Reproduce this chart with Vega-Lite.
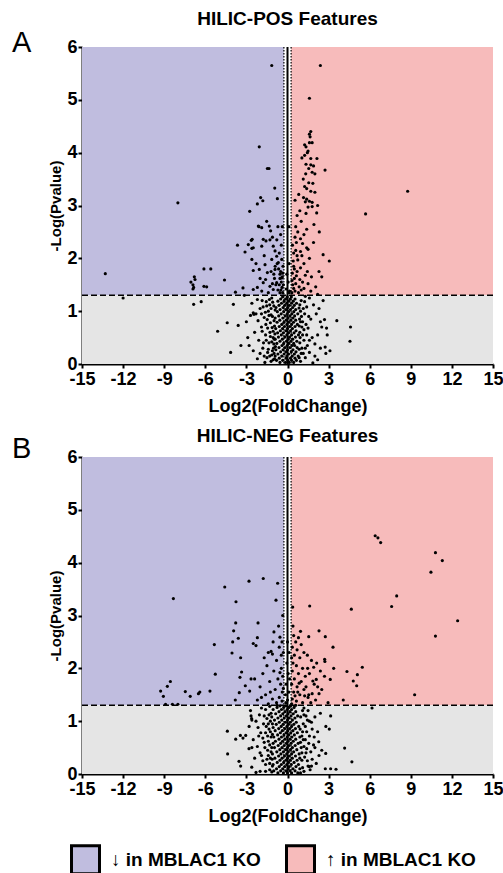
{
"$schema": "https://vega.github.io/schema/vega-lite/v6.json",
"background": "white",
"padding": {"left": 12, "top": 10, "right": 6, "bottom": 2},
"config": {
 "font": "Liberation Sans",
 "view": {"stroke": null},
 "axis": {"grid": false, "domainColor": "black", "domainWidth": 2, "tickColor": "black", "tickWidth": 2, "tickSize": 4, "labelColor": "black", "labelFontSize": 18, "labelFontWeight": "bold", "labelOverlap": false, "labelBound": false, "labelFlush": false, "titleColor": "black", "titleFontWeight": "bold", "titleFontSize": 18, "labelPadding": 2, "titlePadding": 9, "labelExpr": "datum.value < 0 ? '-' + abs(datum.value) : '' + datum.value"},
 "axisY": {"titlePadding": 3, "labelPadding": 1},
 "title": {"fontSize": 19, "fontWeight": "bold", "color": "black", "anchor": "middle"}
},
"datasets": {
 "regions": [
  {"x": -15, "x2": -0.263, "y": 1.3, "y2": 6, "c": "↓ in MBLAC1 KO"},
  {"x": 0.263, "x2": 15, "y": 1.3, "y2": 6, "c": "↑ in MBLAC1 KO"},
  {"x": -15, "x2": 15, "y": 0, "y2": 1.3, "c": "ns"}
 ],
 "pos": [
{"x":-1.15,"y":5.65},{"x":2.4,"y":5.65},{"x":1.6,"y":5.03},{"x":-2.06,"y":4.11},{"x":-13.3,"y":1.71},{"x":-12.0,"y":1.25},{"x":-8.0,"y":3.05},{"x":8.77,"y":3.27},{"x":5.7,"y":2.84},
{"x":-7.05,"y":1.55},{"x":-6.9,"y":1.5},{"x":-6.85,"y":1.45},{"x":-6.9,"y":1.42},{"x":-6.75,"y":1.6},{"x":-6.8,"y":1.65},{"x":-6.1,"y":1.8},{"x":-5.6,"y":1.8},{"x":-6.1,"y":1.47},{"x":-5.9,"y":1.46},{"x":-4.6,"y":1.59},{"x":-6.85,"y":1.13},{"x":-6.3,"y":1.18},{"x":-5.1,"y":0.62},{"x":-4.15,"y":0.22},{"x":-4.4,"y":0.78},{"x":-3.95,"y":1.13},{"x":-3.6,"y":0.73},{"x":-3.4,"y":0.35},{"x":-3.8,"y":1.36},{"x":-3.65,"y":2.25},{"x":-3.1,"y":2.12},{"x":-2.76,"y":2.89},{"x":-2.64,"y":2.34},{"x":-2.58,"y":2.36},{"x":-2.6,"y":2.19},{"x":-2.6,"y":1.98},{"x":-2.5,"y":1.77},{"x":-2.2,"y":3.03},{"x":-2.08,"y":2.6},{"x":-3.25,"y":1.44},{"x":-3.15,"y":1.3},{"x":-1.47,"y":3.7},{"x":-1.35,"y":3.7},{"x":-0.93,"y":3.33},{"x":-1.96,"y":3.15},{"x":-1.8,"y":3.09},{"x":-0.74,"y":3.13},
{"x":-2.13,"y":2.61},{"x":-1.88,"y":2.58},{"x":-1.52,"y":2.7},{"x":-1.33,"y":2.61},{"x":-1.23,"y":2.52},{"x":-1.77,"y":2.36},{"x":-1.57,"y":2.33},{"x":-1.28,"y":2.35},{"x":-2.86,"y":2.26},{"x":-2.5,"y":2.2},{"x":-1.88,"y":2.23},{"x":-1.04,"y":2.23},{"x":-0.91,"y":2.14},{"x":-0.79,"y":2.04},{"x":-1.15,"y":1.98},{"x":-0.67,"y":1.92},{"x":-1.64,"y":1.88},{"x":-2.06,"y":1.79},{"x":-1.47,"y":1.73},{"x":-0.91,"y":1.79},{"x":-0.55,"y":1.7},{"x":-1.77,"y":1.54},{"x":-1.28,"y":1.47},{"x":-0.79,"y":1.54},{"x":-0.42,"y":1.63},{"x":-1.04,"y":1.41},{"x":-1.88,"y":1.38},{"x":-0.55,"y":1.35},{"x":-2.5,"y":1.41},
{"x":-0.35,"y":1.35},{"x":-0.4,"y":1.45},{"x":-0.45,"y":1.55},{"x":-0.38,"y":1.65},{"x":-0.5,"y":1.75},{"x":-0.33,"y":1.85},{"x":-0.6,"y":1.5},{"x":-0.7,"y":1.4},{"x":-0.42,"y":1.98},{"x":-0.55,"y":1.62},{"x":-0.65,"y":1.8},{"x":-0.3,"y":1.5},{"x":-0.35,"y":1.72},{"x":-0.48,"y":1.4},{"x":-0.85,"y":1.5},{"x":-0.95,"y":1.62},{"x":-1.1,"y":1.52},{"x":-1.2,"y":1.75},{"x":-0.75,"y":1.9},{"x":-0.9,"y":1.85},{"x":-1.0,"y":1.7},{"x":-0.6,"y":2.1},{"x":-0.45,"y":2.25},{"x":-0.78,"y":2.35},{"x":-0.5,"y":2.45},{"x":-0.38,"y":2.6},{"x":-1.1,"y":2.4},{"x":-0.7,"y":2.6},{"x":-1.6,"y":1.6},{"x":-1.4,"y":1.35},{"x":-2.2,"y":1.45},{"x":-2.0,"y":1.62},{"x":-2.3,"y":1.9},{"x":-1.7,"y":2.05},
{"x":1.35,"y":4.11},{"x":1.5,"y":4.03},{"x":1.45,"y":4.0},{"x":1.6,"y":4.19},{"x":1.8,"y":4.19},{"x":1.7,"y":3.89},{"x":2.15,"y":3.89},{"x":1.35,"y":3.78},{"x":1.7,"y":3.77},{"x":2.0,"y":3.6},{"x":1.8,"y":3.63},{"x":1.33,"y":3.6},{"x":1.55,"y":3.43},{"x":1.85,"y":3.42},{"x":1.25,"y":3.36},{"x":1.4,"y":3.32},{"x":1.7,"y":3.27},{"x":2.0,"y":3.25},{"x":0.82,"y":3.21},{"x":1.17,"y":3.15},{"x":1.4,"y":3.12},{"x":1.6,"y":3.08},{"x":1.8,"y":3.06},{"x":2.2,"y":3.0},{"x":1.3,"y":3.07},{"x":1.5,"y":2.97},{"x":1.8,"y":2.98},{"x":2.13,"y":2.86},{"x":1.35,"y":2.85},{"x":0.55,"y":3.1},{"x":0.7,"y":2.81},{"x":1.6,"y":4.35},{"x":1.7,"y":4.4},{"x":1.65,"y":4.3},{"x":2.74,"y":3.67},{"x":3.05,"y":1.95},{"x":2.6,"y":2.07},{"x":2.5,"y":1.65},{"x":2.06,"y":1.46},{"x":2.32,"y":2.5},{"x":1.93,"y":2.64},
{"x":1.4,"y":2.55},{"x":0.75,"y":2.5},{"x":0.55,"y":2.4},{"x":0.95,"y":2.37},{"x":0.65,"y":2.3},{"x":1.1,"y":2.28},{"x":1.4,"y":2.2},{"x":0.6,"y":2.15},{"x":0.95,"y":2.13},{"x":1.5,"y":2.17},{"x":0.45,"y":2.1},{"x":1.05,"y":2.05},{"x":1.6,"y":2.0},{"x":0.75,"y":1.97},{"x":1.2,"y":1.9},{"x":0.45,"y":1.85},{"x":0.95,"y":1.82},{"x":1.45,"y":1.75},{"x":1.75,"y":1.65},{"x":0.65,"y":1.67},{"x":1.1,"y":1.55},{"x":1.5,"y":1.52},{"x":0.85,"y":1.46},{"x":0.45,"y":1.43},{"x":1.2,"y":1.43},
{"x":0.32,"y":1.35},{"x":0.38,"y":1.5},{"x":0.5,"y":1.62},{"x":0.35,"y":1.72},{"x":0.42,"y":1.95},{"x":0.55,"y":1.38},{"x":0.6,"y":1.52},{"x":0.7,"y":1.75},{"x":0.33,"y":1.58},{"x":0.8,"y":1.35},{"x":0.9,"y":1.6},{"x":1.0,"y":1.4},{"x":0.5,"y":1.8},{"x":0.36,"y":2.25},{"x":0.7,"y":2.05},{"x":1.3,"y":1.68},{"x":1.7,"y":1.38},{"x":2.2,"y":1.32},{"x":0.6,"y":2.6},{"x":1.0,"y":2.7},{"x":1.2,"y":2.45},{"x":0.9,"y":2.9},{"x":1.15,"y":3.5},{"x":1.05,"y":3.9},{"x":1.25,"y":3.95},{"x":1.9,"y":3.75},{"x":1.55,"y":3.7},{"x":1.9,"y":2.3},{"x":2.3,"y":1.75},{"x":1.25,"y":4.15},
{"x":0.1,"y":1.35},{"x":-0.1,"y":1.42},{"x":0.05,"y":1.55},{"x":0.15,"y":1.38},{"x":-0.05,"y":1.7},{"x":0.1,"y":2.6},{"x":0.12,"y":1.9},
{"x":-0.55,"y":0.03},{"x":-0.15,"y":0.03},{"x":0.12,"y":0.03},{"x":0.45,"y":0.03},
{"x":-0.8,"y":0.07},{"x":-0.35,"y":0.07},{"x":0.02,"y":0.07},{"x":0.3,"y":0.07},{"x":0.65,"y":0.07},
{"x":-0.6,"y":0.11},{"x":-0.1,"y":0.11},{"x":0.22,"y":0.11},{"x":0.55,"y":0.11},
{"x":-0.9,"y":0.15},{"x":-0.42,"y":0.15},{"x":-0.05,"y":0.15},{"x":0.35,"y":0.15},{"x":0.78,"y":0.15},
{"x":-0.7,"y":0.19},{"x":-0.25,"y":0.19},{"x":0.08,"y":0.19},{"x":0.5,"y":0.19},
{"x":-0.5,"y":0.23},{"x":-0.12,"y":0.23},{"x":0.28,"y":0.23},{"x":0.62,"y":0.23},
{"x":-0.85,"y":0.27},{"x":-0.32,"y":0.27},{"x":0.0,"y":0.27},{"x":0.4,"y":0.27},
{"x":-0.62,"y":0.31},{"x":-0.18,"y":0.31},{"x":0.18,"y":0.31},{"x":0.7,"y":0.31},
{"x":-0.4,"y":0.35},{"x":-0.02,"y":0.35},{"x":0.33,"y":0.35},{"x":0.52,"y":0.35},
{"x":-0.78,"y":0.39},{"x":-0.28,"y":0.39},{"x":0.1,"y":0.39},{"x":0.45,"y":0.39},
{"x":-0.55,"y":0.43},{"x":-0.08,"y":0.43},{"x":0.25,"y":0.43},{"x":0.68,"y":0.43},
{"x":-0.9,"y":0.47},{"x":-0.38,"y":0.47},{"x":0.05,"y":0.47},{"x":0.38,"y":0.47},
{"x":-0.66,"y":0.51},{"x":-0.2,"y":0.51},{"x":0.15,"y":0.51},{"x":0.58,"y":0.51},
{"x":-0.45,"y":0.55},{"x":-0.05,"y":0.55},{"x":0.3,"y":0.55},{"x":0.8,"y":0.55},
{"x":-0.72,"y":0.59},{"x":-0.3,"y":0.59},{"x":0.08,"y":0.59},{"x":0.48,"y":0.59},
{"x":-0.52,"y":0.63},{"x":-0.12,"y":0.63},{"x":0.22,"y":0.63},{"x":0.62,"y":0.63},
{"x":-0.86,"y":0.67},{"x":-0.36,"y":0.67},{"x":0.0,"y":0.67},{"x":0.36,"y":0.67},
{"x":-0.6,"y":0.71},{"x":-0.22,"y":0.71},{"x":0.16,"y":0.71},{"x":0.55,"y":0.71},
{"x":-0.42,"y":0.75},{"x":-0.04,"y":0.75},{"x":0.3,"y":0.75},{"x":0.72,"y":0.75},
{"x":-0.76,"y":0.79},{"x":-0.26,"y":0.79},{"x":0.1,"y":0.79},{"x":0.44,"y":0.79},
{"x":-0.56,"y":0.83},{"x":-0.1,"y":0.83},{"x":0.24,"y":0.83},{"x":0.6,"y":0.83},
{"x":-0.9,"y":0.87},{"x":-0.34,"y":0.87},{"x":0.04,"y":0.87},{"x":0.4,"y":0.87},
{"x":-0.64,"y":0.91},{"x":-0.16,"y":0.91},{"x":0.18,"y":0.91},{"x":0.52,"y":0.91},
{"x":-0.46,"y":0.95},{"x":-0.02,"y":0.95},{"x":0.32,"y":0.95},{"x":0.75,"y":0.95},
{"x":-0.74,"y":0.99},{"x":-0.28,"y":0.99},{"x":0.08,"y":0.99},{"x":0.46,"y":0.99},
{"x":-0.54,"y":1.03},{"x":-0.12,"y":1.03},{"x":0.22,"y":1.03},{"x":0.6,"y":1.03},
{"x":-0.84,"y":1.07},{"x":-0.32,"y":1.07},{"x":0.02,"y":1.07},{"x":0.38,"y":1.07},
{"x":-0.62,"y":1.11},{"x":-0.2,"y":1.11},{"x":0.14,"y":1.11},{"x":0.5,"y":1.11},
{"x":-0.44,"y":1.15},{"x":-0.06,"y":1.15},{"x":0.3,"y":1.15},{"x":0.66,"y":1.15},
{"x":-0.7,"y":1.19},{"x":-0.25,"y":1.19},{"x":0.1,"y":1.19},{"x":0.42,"y":1.19},
{"x":-0.5,"y":1.23},{"x":-0.14,"y":1.23},{"x":0.2,"y":1.23},{"x":0.55,"y":1.23},
{"x":-0.36,"y":1.27},{"x":-0.02,"y":1.27},{"x":0.28,"y":1.27},
{"x":-1.2,"y":0.05},{"x":-1.5,"y":0.12},{"x":-1.1,"y":0.25},{"x":-1.8,"y":0.3},{"x":-1.35,"y":0.4},{"x":-2.1,"y":0.45},{"x":-1.6,"y":0.55},{"x":-1.05,"y":0.62},{"x":-2.4,"y":0.6},{"x":-1.9,"y":0.7},{"x":-1.25,"y":0.78},{"x":-1.7,"y":0.88},{"x":-2.3,"y":0.95},{"x":-1.4,"y":1.0},{"x":-1.0,"y":1.1},{"x":-2.0,"y":1.05},{"x":-1.55,"y":1.18},{"x":-2.6,"y":1.15},{"x":-1.15,"y":1.25},{"x":-2.7,"y":0.92},{"x":-2.5,"y":0.97},{"x":-2.45,"y":0.94},{"x":-2.2,"y":0.1},{"x":-2.0,"y":0.2},{"x":-1.3,"y":0.15},{"x":-2.8,"y":0.35},{"x":-1.0,"y":0.38},{"x":-1.45,"y":0.68},{"x":-2.15,"y":0.82},{"x":-1.1,"y":0.9},{"x":-1.85,"y":1.2},{"x":-2.9,"y":0.5},{"x":-2.5,"y":0.25},{"x":-3.0,"y":0.8},{"x":-1.65,"y":0.03},{"x":-1.05,"y":0.5},{"x":-2.2,"y":1.22},{"x":-1.3,"y":1.12},{"x":-0.95,"y":0.72},{"x":-0.98,"y":0.2},
{"x":-0.95,"y":0.1},{"x":-1.15,"y":0.17},{"x":-0.88,"y":0.33},{"x":-1.25,"y":0.52},{"x":-0.92,"y":0.57},{"x":-1.12,"y":0.69},{"x":-0.98,"y":0.82},{"x":-1.2,"y":0.93},{"x":-0.9,"y":1.02},{"x":-1.08,"y":1.17},{"x":-1.32,"y":1.22},{"x":-1.4,"y":0.28},{"x":-1.55,"y":0.45},{"x":-1.28,"y":0.6},{"x":-1.48,"y":0.84},{"x":-1.62,"y":0.98},{"x":-1.2,"y":1.05},{"x":-1.75,"y":0.4},{"x":-1.58,"y":0.75},{"x":-1.85,"y":0.62},{"x":-1.45,"y":0.22},{"x":-1.7,"y":0.15},{"x":-1.05,"y":0.08},{"x":-1.9,"y":0.95},{"x":-1.35,"y":0.92},{"x":-1.15,"y":0.42},{"x":-0.96,"y":0.47},{"x":-1.02,"y":0.3},{"x":-1.52,"y":1.1},{"x":-1.78,"y":1.08},
{"x":0.95,"y":0.05},{"x":1.3,"y":0.12},{"x":1.05,"y":0.3},{"x":1.6,"y":0.22},{"x":2.0,"y":0.15},{"x":2.4,"y":0.3},{"x":1.2,"y":0.45},{"x":1.8,"y":0.5},{"x":2.2,"y":0.55},{"x":0.9,"y":0.6},{"x":1.5,"y":0.68},{"x":2.5,"y":0.7},{"x":1.1,"y":0.8},{"x":1.7,"y":0.85},{"x":2.1,"y":0.95},{"x":0.95,"y":1.0},{"x":1.4,"y":1.08},{"x":1.9,"y":1.12},{"x":2.3,"y":1.05},{"x":1.0,"y":1.2},{"x":1.6,"y":1.25},{"x":2.7,"y":0.84},{"x":2.9,"y":0.55},{"x":2.8,"y":0.2},{"x":2.75,"y":0.32},{"x":2.85,"y":0.68},{"x":3.6,"y":0.82},{"x":4.6,"y":0.7},{"x":4.56,"y":0.43},{"x":1.25,"y":0.95},{"x":2.0,"y":0.38},{"x":1.45,"y":0.35},{"x":0.9,"y":0.4},{"x":2.6,"y":1.2},{"x":1.85,"y":0.02},{"x":1.2,"y":0.65},{"x":0.88,"y":0.85},{"x":2.4,"y":0.8},{"x":3.1,"y":0.25},{"x":2.2,"y":0.08},
{"x":0.85,"y":0.12},{"x":1.0,"y":0.2},{"x":0.92,"y":0.5},{"x":1.1,"y":0.55},{"x":0.86,"y":0.72},{"x":1.02,"y":0.9},{"x":0.9,"y":1.12},{"x":1.15,"y":1.05},{"x":1.3,"y":0.3},{"x":1.35,"y":0.75},{"x":1.25,"y":1.18},{"x":1.05,"y":0.7},{"x":0.85,"y":0.28},{"x":1.4,"y":0.55},{"x":1.55,"y":0.9},{"x":1.15,"y":0.2},{"x":0.95,"y":0.8},{"x":1.6,"y":0.45},{"x":1.3,"y":1.28},{"x":0.84,"y":1.06}
 ],
 "neg": [
{"x":-8.33,"y":3.32},{"x":-9.26,"y":1.57},{"x":-9.06,"y":1.47},{"x":-8.77,"y":1.66},{"x":-8.55,"y":1.75},{"x":-8.9,"y":1.32},{"x":-8.4,"y":1.32},{"x":-8.0,"y":1.32},{"x":-7.46,"y":1.56},{"x":-7.1,"y":1.47},{"x":-6.5,"y":1.52},{"x":-6.4,"y":1.55},{"x":-5.66,"y":1.57},{"x":-5.34,"y":2.45},{"x":-5.27,"y":1.89},{"x":-4.58,"y":3.54},{"x":-2.81,"y":3.65},{"x":-3.76,"y":3.26},{"x":-3.78,"y":2.86},{"x":-3.93,"y":2.71},{"x":-4.0,"y":2.5},{"x":-4.05,"y":2.29},{"x":-3.59,"y":2.57},{"x":-3.42,"y":2.2},{"x":-3.35,"y":1.93},{"x":-3.47,"y":1.83},{"x":-3.08,"y":1.67},{"x":-3.52,"y":1.54},{"x":-2.76,"y":1.57},{"x":-3.81,"y":1.4},{"x":-2.66,"y":1.8},{"x":-2.5,"y":2.47},{"x":-2.3,"y":2.43},{"x":-2.2,"y":2.58},{"x":-2.15,"y":2.86},{"x":-1.77,"y":3.7},{"x":-0.72,"y":3.61},{"x":-0.84,"y":3.29},
{"x":-4.39,"y":0.81},{"x":-4.37,"y":0.38},{"x":-3.78,"y":0.66},{"x":-3.44,"y":0.73},{"x":-3.25,"y":0.68},{"x":-3.05,"y":0.73},{"x":-3.54,"y":0.24},{"x":-3.42,"y":0.15},{"x":-2.81,"y":0.48},{"x":-2.61,"y":0.13},{"x":-2.66,"y":1.1},{"x":-2.62,"y":1.05},{"x":-2.6,"y":1.02},{"x":-2.3,"y":0.03},
{"x":6.6,"y":4.47},{"x":6.4,"y":4.51},{"x":6.8,"y":4.38},{"x":10.8,"y":4.19},{"x":11.3,"y":4.04},{"x":10.47,"y":3.82},{"x":7.97,"y":3.37},{"x":7.6,"y":3.17},{"x":4.66,"y":3.12},{"x":1.62,"y":3.18},{"x":0.38,"y":3.16},{"x":12.42,"y":2.9},{"x":10.8,"y":2.61},{"x":9.28,"y":1.5},{"x":6.17,"y":1.25},{"x":2.3,"y":2.71},{"x":1.55,"y":2.6},{"x":2.76,"y":2.6},{"x":3.32,"y":2.4},{"x":2.71,"y":2.17},{"x":2.73,"y":2.13},{"x":2.13,"y":2.1},{"x":1.91,"y":2.02},{"x":1.47,"y":2.0},{"x":3.37,"y":2.0},{"x":5.46,"y":2.02},{"x":4.34,"y":1.94},{"x":5.1,"y":1.88},{"x":4.8,"y":1.76},{"x":5.05,"y":1.67},{"x":3.12,"y":1.79},{"x":2.1,"y":1.79},{"x":1.85,"y":1.76},{"x":1.95,"y":1.7},{"x":4.07,"y":1.4},{"x":2.96,"y":1.35},{"x":2.3,"y":1.52},{"x":1.8,"y":1.52},{"x":1.55,"y":1.5},
{"x":4.17,"y":0.49},{"x":4.7,"y":0.23},{"x":2.76,"y":0.1},{"x":3.15,"y":0.1},{"x":3.54,"y":0.09},{"x":2.79,"y":0.39},{"x":2.28,"y":0.61},{"x":3.15,"y":1.1},{"x":2.8,"y":0.9},{"x":3.05,"y":0.85},{"x":1.59,"y":0.14},
{"x":0.45,"y":2.62},{"x":0.6,"y":2.5},{"x":0.8,"y":2.58},{"x":0.35,"y":2.4},{"x":0.7,"y":2.35},{"x":1.0,"y":2.45},{"x":0.5,"y":2.25},{"x":0.9,"y":2.2},{"x":1.2,"y":2.3},{"x":0.4,"y":2.1},{"x":0.65,"y":2.05},{"x":1.1,"y":2.0},{"x":0.35,"y":1.95},{"x":0.8,"y":1.9},{"x":1.3,"y":1.85},{"x":0.5,"y":1.8},{"x":1.0,"y":1.75},{"x":0.3,"y":1.7},{"x":0.7,"y":1.65},{"x":1.2,"y":1.6},{"x":0.45,"y":1.55},{"x":0.9,"y":1.5},{"x":1.5,"y":1.45},{"x":0.35,"y":1.42},{"x":0.65,"y":1.38},{"x":1.1,"y":1.35},{"x":0.3,"y":1.33},{"x":1.7,"y":1.35},{"x":2.05,"y":1.4},{"x":1.35,"y":1.65},{"x":0.55,"y":1.48},{"x":0.85,"y":1.72},{"x":1.6,"y":1.9},{"x":0.4,"y":2.8},{"x":1.45,"y":2.25},{"x":2.4,"y":1.95},{"x":1.75,"y":2.15},{"x":0.95,"y":2.7},{"x":0.6,"y":1.3},{"x":2.5,"y":1.6},{"x":2.7,"y":1.85},{"x":0.3,"y":2.2},{"x":0.75,"y":1.55},{"x":1.25,"y":1.48},{"x":2.2,"y":1.65},
{"x":-0.99,"y":2.69},{"x":-0.55,"y":2.59},{"x":-1.4,"y":2.3},{"x":-1.2,"y":2.32},{"x":-1.1,"y":2.27},{"x":-0.6,"y":2.4},{"x":-0.4,"y":2.5},{"x":-0.8,"y":2.15},{"x":-1.5,"y":2.05},{"x":-0.45,"y":2.0},{"x":-1.0,"y":1.95},{"x":-1.8,"y":1.9},{"x":-0.35,"y":1.85},{"x":-0.7,"y":1.8},{"x":-1.3,"y":1.75},{"x":-0.5,"y":1.7},{"x":-2.0,"y":1.65},{"x":-0.9,"y":1.6},{"x":-0.38,"y":1.55},{"x":-1.6,"y":1.5},{"x":-0.6,"y":1.45},{"x":-1.1,"y":1.42},{"x":-0.4,"y":1.38},{"x":-0.8,"y":1.35},{"x":-1.4,"y":1.33},{"x":-2.2,"y":1.4},{"x":-0.3,"y":1.62},{"x":-0.55,"y":1.92},{"x":-1.25,"y":1.55},{"x":-0.75,"y":1.3},{"x":-0.45,"y":2.25},{"x":-0.3,"y":2.3},{"x":-1.9,"y":1.45},{"x":-2.4,"y":1.8},{"x":-1.7,"y":2.2},{"x":-0.65,"y":2.8},{"x":-0.35,"y":3.0},{"x":-1.05,"y":2.5},
{"x":0.0,"y":1.4},{"x":0.1,"y":1.55},{"x":-0.1,"y":1.7},{"x":0.05,"y":1.9},{"x":-0.05,"y":2.1},{"x":0.12,"y":2.3},{"x":-0.15,"y":1.5},{"x":0.15,"y":1.8},{"x":0.0,"y":2.5},{"x":-0.12,"y":1.35},
{"x":-0.7,"y":0.02},{"x":-0.3,"y":0.02},{"x":0.0,"y":0.02},{"x":0.3,"y":0.02},{"x":0.75,"y":0.02},
{"x":-1.0,"y":0.06},{"x":-0.5,"y":0.06},{"x":-0.12,"y":0.06},{"x":0.18,"y":0.06},{"x":0.55,"y":0.06},
{"x":-0.8,"y":0.1},{"x":-0.35,"y":0.1},{"x":0.05,"y":0.1},{"x":0.4,"y":0.1},{"x":0.9,"y":0.1},
{"x":-0.6,"y":0.14},{"x":-0.2,"y":0.14},{"x":0.12,"y":0.14},{"x":0.62,"y":0.14},
{"x":-1.05,"y":0.18},{"x":-0.45,"y":0.18},{"x":-0.05,"y":0.18},{"x":0.28,"y":0.18},{"x":0.8,"y":0.18},
{"x":-0.75,"y":0.22},{"x":-0.28,"y":0.22},{"x":0.08,"y":0.22},{"x":0.48,"y":0.22},
{"x":-0.55,"y":0.26},{"x":-0.12,"y":0.26},{"x":0.2,"y":0.26},{"x":0.7,"y":0.26},{"x":1.05,"y":0.26},
{"x":-0.92,"y":0.3},{"x":-0.4,"y":0.3},{"x":0.0,"y":0.3},{"x":0.35,"y":0.3},
{"x":-0.65,"y":0.34},{"x":-0.22,"y":0.34},{"x":0.14,"y":0.34},{"x":0.58,"y":0.34},
{"x":-1.1,"y":0.38},{"x":-0.48,"y":0.38},{"x":-0.06,"y":0.38},{"x":0.3,"y":0.38},{"x":0.85,"y":0.38},
{"x":-0.78,"y":0.42},{"x":-0.3,"y":0.42},{"x":0.06,"y":0.42},{"x":0.45,"y":0.42},
{"x":-0.56,"y":0.46},{"x":-0.14,"y":0.46},{"x":0.22,"y":0.46},{"x":0.68,"y":0.46},
{"x":-0.95,"y":0.5},{"x":-0.4,"y":0.5},{"x":0.0,"y":0.5},{"x":0.36,"y":0.5},{"x":1.0,"y":0.5},
{"x":-0.68,"y":0.54},{"x":-0.24,"y":0.54},{"x":0.12,"y":0.54},{"x":0.56,"y":0.54},
{"x":-0.5,"y":0.58},{"x":-0.08,"y":0.58},{"x":0.26,"y":0.58},{"x":0.78,"y":0.58},
{"x":-0.88,"y":0.62},{"x":-0.36,"y":0.62},{"x":0.04,"y":0.62},{"x":0.42,"y":0.62},
{"x":-0.62,"y":0.66},{"x":-0.18,"y":0.66},{"x":0.18,"y":0.66},{"x":0.6,"y":0.66},
{"x":-1.0,"y":0.7},{"x":-0.44,"y":0.7},{"x":-0.02,"y":0.7},{"x":0.32,"y":0.7},{"x":0.9,"y":0.7},
{"x":-0.72,"y":0.74},{"x":-0.26,"y":0.74},{"x":0.1,"y":0.74},{"x":0.5,"y":0.74},
{"x":-0.52,"y":0.78},{"x":-0.1,"y":0.78},{"x":0.24,"y":0.78},{"x":0.72,"y":0.78},
{"x":-0.9,"y":0.82},{"x":-0.38,"y":0.82},{"x":0.02,"y":0.82},{"x":0.4,"y":0.82},
{"x":-0.64,"y":0.86},{"x":-0.2,"y":0.86},{"x":0.16,"y":0.86},{"x":0.58,"y":0.86},
{"x":-0.46,"y":0.9},{"x":-0.04,"y":0.9},{"x":0.3,"y":0.9},{"x":0.82,"y":0.9},
{"x":-0.82,"y":0.94},{"x":-0.32,"y":0.94},{"x":0.08,"y":0.94},{"x":0.46,"y":0.94},
{"x":-0.6,"y":0.98},{"x":-0.16,"y":0.98},{"x":0.2,"y":0.98},{"x":0.64,"y":0.98},
{"x":-0.95,"y":1.02},{"x":-0.42,"y":1.02},{"x":0.0,"y":1.02},{"x":0.36,"y":1.02},
{"x":-0.7,"y":1.06},{"x":-0.24,"y":1.06},{"x":0.12,"y":1.06},{"x":0.54,"y":1.06},
{"x":-0.5,"y":1.1},{"x":-0.08,"y":1.1},{"x":0.26,"y":1.1},{"x":0.74,"y":1.1},
{"x":-0.86,"y":1.14},{"x":-0.34,"y":1.14},{"x":0.04,"y":1.14},{"x":0.42,"y":1.14},
{"x":-0.62,"y":1.18},{"x":-0.18,"y":1.18},{"x":0.18,"y":1.18},{"x":0.6,"y":1.18},
{"x":-0.44,"y":1.22},{"x":-0.02,"y":1.22},{"x":0.3,"y":1.22},
{"x":-0.76,"y":1.26},{"x":-0.28,"y":1.26},{"x":0.1,"y":1.26},{"x":0.48,"y":1.26},
{"x":-0.55,"y":1.29},{"x":-0.1,"y":1.29},{"x":0.22,"y":1.29},
{"x":-1.3,"y":0.08},{"x":-1.6,"y":0.18},{"x":-1.25,"y":0.3},{"x":-1.9,"y":0.35},{"x":-1.45,"y":0.45},{"x":-2.2,"y":0.52},{"x":-1.7,"y":0.6},{"x":-1.2,"y":0.7},{"x":-2.5,"y":0.65},{"x":-1.95,"y":0.78},{"x":-1.35,"y":0.85},{"x":-1.75,"y":0.95},{"x":-2.3,"y":1.0},{"x":-1.5,"y":1.05},{"x":-1.2,"y":1.15},{"x":-2.05,"y":1.12},{"x":-1.6,"y":1.22},{"x":-2.7,"y":1.2},{"x":-1.15,"y":0.5},{"x":-2.0,"y":0.05},{"x":-1.8,"y":0.25},{"x":-1.4,"y":0.62},{"x":-2.15,"y":0.88},{"x":-1.25,"y":1.0},{"x":-1.9,"y":1.25},{"x":-2.8,"y":0.9},{"x":-2.4,"y":0.3},{"x":-1.6,"y":0.78},{"x":-1.1,"y":0.95},{"x":-2.6,"y":0.5},
{"x":-1.15,"y":0.04},{"x":-1.3,"y":0.2},{"x":-1.12,"y":0.28},{"x":-1.4,"y":0.35},{"x":-1.2,"y":0.42},{"x":-1.05,"y":0.58},{"x":-1.3,"y":0.55},{"x":-1.1,"y":0.75},{"x":-1.45,"y":0.72},{"x":-1.25,"y":0.8},{"x":-1.05,"y":0.88},{"x":-1.4,"y":0.95},{"x":-1.15,"y":1.08},{"x":-1.35,"y":1.12},{"x":-1.05,"y":1.22},{"x":-1.5,"y":0.28},{"x":-1.65,"y":0.5},{"x":-1.55,"y":0.9},{"x":-1.7,"y":1.1},{"x":-1.8,"y":0.68},{"x":-2.0,"y":0.4},{"x":-2.1,"y":0.72},{"x":-1.3,"y":1.28},{"x":-1.6,"y":0.05},{"x":-1.1,"y":0.15},
{"x":1.2,"y":0.05},{"x":1.5,"y":0.15},{"x":1.25,"y":0.32},{"x":1.8,"y":0.28},{"x":2.1,"y":0.2},{"x":1.4,"y":0.48},{"x":1.9,"y":0.55},{"x":1.15,"y":0.65},{"x":1.6,"y":0.72},{"x":2.2,"y":0.8},{"x":1.3,"y":0.9},{"x":1.75,"y":0.98},{"x":2.0,"y":1.08},{"x":1.2,"y":1.12},{"x":1.5,"y":1.2},{"x":2.4,"y":1.15},{"x":1.35,"y":0.4},{"x":1.7,"y":0.42},{"x":2.5,"y":0.45},{"x":1.1,"y":0.8},{"x":1.95,"y":0.7},{"x":1.45,"y":1.02},{"x":1.65,"y":0.08},{"x":2.3,"y":0.35},{"x":1.2,"y":1.25},
{"x":0.95,"y":0.02},{"x":1.1,"y":0.12},{"x":0.9,"y":0.3},{"x":1.05,"y":0.4},{"x":1.2,"y":0.52},{"x":0.95,"y":0.6},{"x":1.05,"y":0.72},{"x":0.92,"y":0.85},{"x":1.15,"y":0.95},{"x":0.96,"y":1.08},{"x":1.1,"y":1.2},{"x":1.3,"y":0.65},{"x":1.4,"y":0.8},{"x":1.55,"y":0.58},{"x":1.35,"y":1.1},{"x":1.6,"y":1.0},{"x":1.8,"y":0.85},{"x":1.45,"y":0.25},{"x":1.75,"y":0.15},{"x":2.0,"y":0.5}
 ]
},
"spacing": 12,
"resolve": {"scale": {"color": "shared"}},
"vconcat": [
 {
  "width": 411, "height": 317,
  "title": {"text": "HILIC-POS Features", "offset": 0},
  "layer": [
   {"data": {"name": "regions"}, "mark": "rect", "encoding": {
     "x": {"field": "x", "type": "quantitative", "scale": {"domain": [-15, 15], "nice": false}, "axis": {"values": [-15, -12, -9, -6, -3, 0, 3, 6, 9, 12, 15]}, "title": "Log2(FoldChange)"},
     "x2": {"field": "x2"},
     "y": {"field": "y", "type": "quantitative", "scale": {"domain": [0, 6], "nice": false}, "axis": {"values": [0, 1, 2, 3, 4, 5, 6], "titleFontSize": 15}, "title": "-Log(Pvalue)"},
     "y2": {"field": "y2"},
     "color": {"field": "c", "type": "nominal", "scale": {"domain": ["↓ in MBLAC1 KO", "↑ in MBLAC1 KO", "ns"], "range": ["#c0bddf", "#f7bbbb", "#e5e5e5"]},
       "legend": {"orient": "none", "legendX": -12, "legendY": 797, "direction": "horizontal", "title": null, "values": ["↓ in MBLAC1 KO", "↑ in MBLAC1 KO"], "symbolType": "square", "symbolSize": 784, "symbolStrokeColor": "black", "symbolStrokeWidth": 3, "symbolOpacity": 1, "labelFontSize": 19, "labelFontWeight": "bold", "labelColor": "black", "columnPadding": 19, "labelOffset": 10, "labelLimit": 300}}
   }},
   {"data": {"values": [{"t": -0.263}, {"t": 0.263}]}, "mark": {"type": "rule", "strokeDash": [1.5, 1.5], "strokeWidth": 1.2, "color": "black"}, "encoding": {"x": {"field": "t", "type": "quantitative", "title": "Log2(FoldChange)"}}},
   {"data": {"values": [{}]}, "mark": {"type": "rule", "strokeWidth": 2, "color": "black"}, "encoding": {"x": {"datum": 0}}},
   {"data": {"values": [{}]}, "mark": {"type": "rule", "strokeDash": [6, 3], "strokeWidth": 1.5, "color": "black"}, "encoding": {"y": {"datum": 1.3}}},
   {"data": {"name": "pos"}, "mark": {"type": "circle", "size": 10, "color": "black", "opacity": 1}, "encoding": {"x": {"field": "x", "type": "quantitative", "title": "Log2(FoldChange)"}, "y": {"field": "y", "type": "quantitative", "title": "-Log(Pvalue)"}}},
   {"data": {"values": [{"t": "A"}]}, "mark": {"type": "text", "fontSize": 29, "fontWeight": "normal", "align": "left", "baseline": "alphabetic", "dx": -70, "dy": 5, "color": "black"}, "encoding": {"x": {"datum": -15}, "y": {"datum": 6}, "text": {"field": "t"}}}
  ]
 },
 {
  "width": 411, "height": 317,
  "title": {"text": "HILIC-NEG Features", "offset": -11},
  "layer": [
   {"data": {"name": "regions"}, "mark": "rect", "encoding": {
     "x": {"field": "x", "type": "quantitative", "scale": {"domain": [-15, 15], "nice": false}, "axis": {"values": [-15, -12, -9, -6, -3, 0, 3, 6, 9, 12, 15]}, "title": "Log2(FoldChange)"},
     "x2": {"field": "x2"},
     "y": {"field": "y", "type": "quantitative", "scale": {"domain": [0, 6], "nice": false}, "axis": {"values": [0, 1, 2, 3, 4, 5, 6], "titleFontSize": 15}, "title": "-Log(Pvalue)"},
     "y2": {"field": "y2"},
     "color": {"field": "c", "type": "nominal", "scale": {"domain": ["↓ in MBLAC1 KO", "↑ in MBLAC1 KO", "ns"], "range": ["#c0bddf", "#f7bbbb", "#e5e5e5"]},
       "legend": {"orient": "none", "legendX": -12, "legendY": 797, "direction": "horizontal", "title": null, "values": ["↓ in MBLAC1 KO", "↑ in MBLAC1 KO"], "symbolType": "square", "symbolSize": 784, "symbolStrokeColor": "black", "symbolStrokeWidth": 3, "symbolOpacity": 1, "labelFontSize": 19, "labelFontWeight": "bold", "labelColor": "black", "columnPadding": 19, "labelOffset": 10, "labelLimit": 300}}
   }},
   {"data": {"values": [{"t": -0.263}, {"t": 0.263}]}, "mark": {"type": "rule", "strokeDash": [1.5, 1.5], "strokeWidth": 1.2, "color": "black"}, "encoding": {"x": {"field": "t", "type": "quantitative", "title": "Log2(FoldChange)"}}},
   {"data": {"values": [{}]}, "mark": {"type": "rule", "strokeWidth": 2, "color": "black"}, "encoding": {"x": {"datum": 0}}},
   {"data": {"values": [{}]}, "mark": {"type": "rule", "strokeDash": [6, 3], "strokeWidth": 1.5, "color": "black"}, "encoding": {"y": {"datum": 1.3}}},
   {"data": {"name": "neg"}, "mark": {"type": "circle", "size": 10, "color": "black", "opacity": 1}, "encoding": {"x": {"field": "x", "type": "quantitative", "title": "Log2(FoldChange)"}, "y": {"field": "y", "type": "quantitative", "title": "-Log(Pvalue)"}}},
   {"data": {"values": [{"t": "B"}]}, "mark": {"type": "text", "fontSize": 29, "fontWeight": "normal", "align": "left", "baseline": "alphabetic", "dx": -70, "dy": 1, "color": "black"}, "encoding": {"x": {"datum": -15}, "y": {"datum": 6}, "text": {"field": "t"}}}
  ]
 }
]
}
